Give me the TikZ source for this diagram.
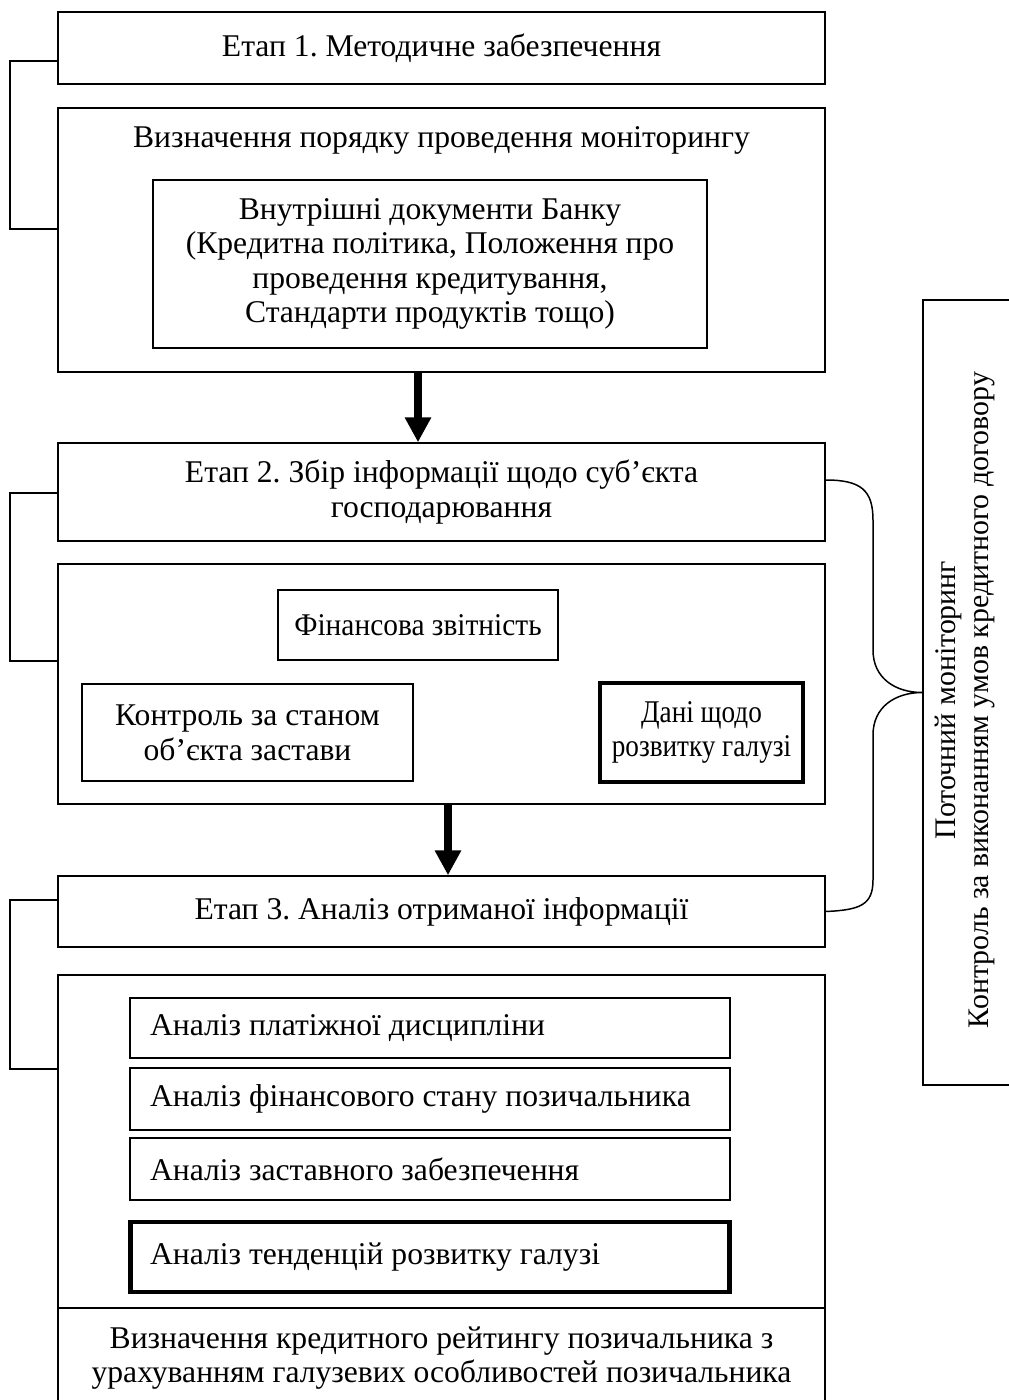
\documentclass[tikz,border=0pt]{standalone}
\usepackage{fontspec}
\setmainfont{Liberation Serif}
\newfontfamily\narrowserif[FakeStretch=0.86]{Liberation Serif}
\newfontfamily\semiserif[FakeStretch=0.93]{Liberation Serif}
\usetikzlibrary{arrows.meta}
\frenchspacing
\begin{document}
\begin{tikzpicture}[x=0.02cm,y=-0.02cm,
  font=\fontsize{18}{19.7}\selectfont,
  box/.style={draw, line width=0.85pt, inner sep=0pt, align=center},
  thickbox/.style={box, line width=2.8pt},
  bigarrow/.style={line width=4.5pt, -{Triangle[width=0.5cm,length=0.5cm]}},
  link/.style={line width=0.85pt},
  plain/.style={inner sep=0pt, align=center}]
\useasboundingbox (0,0) rectangle (1008,1400);

% Stage 1
\node[box, minimum width=15.34cm, minimum height=1.44cm] (b1) at (441.5,48) {Етап 1. Методичне забезпечення};
\node[box, minimum width=15.34cm, minimum height=5.28cm] (b2) at (441.5,240) {};
\node[plain] (t2) at (441.5,140) {Визначення порядку проведення моніторингу};
\node[box, minimum width=11.08cm, minimum height=3.36cm] (docs) at (430,264)
  {Внутрішні документи Банку\\(Кредитна політика, Положення про\\проведення кредитування,\\Стандарти продуктів тощо)};

% Stage 2
\node[box, minimum width=15.34cm, minimum height=1.96cm] (b3) at (441.5,492)
  {Етап 2. Збір інформації щодо суб’єкта\\господарювання};
\node[box, minimum width=15.34cm, minimum height=4.8cm] (b4) at (441.5,684) {};
\node[box, minimum width=5.6cm, minimum height=1.4cm, font=\fontsize{18}{19.7}\semiserif] (fin) at (418,625) {Фінансова звітність};
\node[box, minimum width=6.62cm, minimum height=1.94cm] (ctrl) at (247.5,732.5) {Контроль за станом\\об’єкта застави};
\node[thickbox, minimum width=4.06cm, minimum height=1.98cm, font=\fontsize{18}{19.7}\narrowserif] (ind) at (701.5,732.5) {Дані щодо\\розвитку галузі};

% Stage 3
\node[box, minimum width=15.34cm, minimum height=1.42cm] (b5) at (441.5,911.5) {Етап 3. Аналіз отриманої інформації};
\node[box, minimum width=15.34cm, minimum height=8.6cm] (b6) at (441.5,1190) {};
\node[box, minimum width=12cm, minimum height=1.2cm, text width=11.2cm, align=flush left] (a1) at (430,1028) {Аналіз платіжної дисципліни};
\node[box, minimum width=12cm, minimum height=1.24cm, text width=11.2cm, align=flush left] (a2) at (430,1099) {Аналіз фінансового стану позичальника};
\node[box, minimum width=12cm, minimum height=1.24cm, text width=11.2cm, align=flush left] (a3) at (430,1169) {Аналіз заставного забезпечення};
\node[thickbox, minimum width=12cm, minimum height=1.4cm, text width=11.2cm, align=flush left] (a4) at (430,1257) {Аналіз тенденцій розвитку галузі};
\coordinate (divl) at (58,1308);
\coordinate (divr) at (825,1308);
\draw[link] (divl) -- (divr);
\node[plain] (rating) at (441.5,1358) {Визначення кредитного рейтингу позичальника з\\урахуванням галузевих особливостей позичальника};

% Right monitoring box
\node[draw, line width=0.85pt, minimum width=1.94cm, minimum height=15.7cm, inner sep=0pt] (mon) at (971.5,692.5) {};
\node[plain, rotate=90, font=\fontsize{17}{19}\selectfont] (montxt) at (965,700) {Поточний моніторинг\\Контроль за виконанням умов кредитного договору};

% Arrows
\coordinate (ax1) at (418,0);
\coordinate (ax2) at (448,0);
\draw[bigarrow] (b2.south -| ax1) -- (b3.north -| ax1);
\draw[bigarrow] (b4.south -| ax2) -- (b5.north -| ax2);

% Left brackets
\coordinate (k1) at (10,61);  \coordinate (k2) at (10,229);
\coordinate (k3) at (10,493); \coordinate (k4) at (10,661);
\coordinate (k5) at (10,900); \coordinate (k6) at (10,1069);
\draw[link] (b1.west |- k1) -- (k1) -- (k2) -- (b2.west |- k2);
\draw[link] (b3.west |- k3) -- (k3) -- (k4) -- (b4.west |- k4);
\draw[link] (b5.west |- k5) -- (k5) -- (k6) -- (b6.west |- k6);

% Right brace
\draw[link] ([yshift=0.24cm]b3.east) .. controls +(35,0) and (873,490) .. (873,520)
  -- (873,650) .. controls (873,678) and (895,692.5) .. (mon.west)
  .. controls (895,692.5) and (873,707) .. (873,735)
  -- (873,880) .. controls (873,905) and (860,910) .. (b5.east);
\end{tikzpicture}
\end{document}
